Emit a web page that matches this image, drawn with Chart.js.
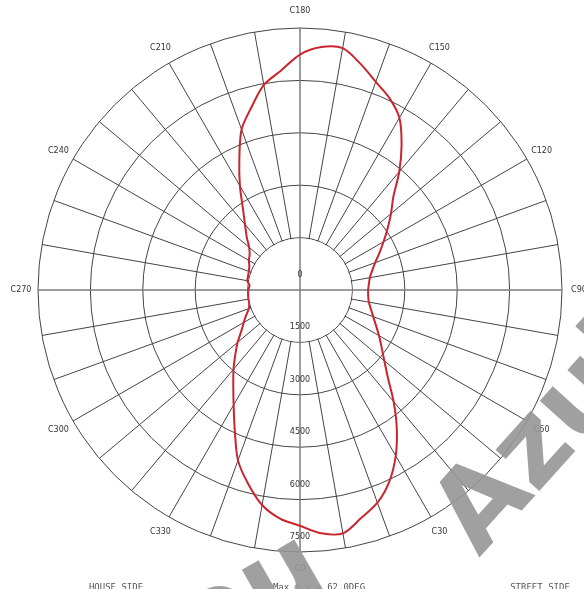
<!DOCTYPE html>
<html lang="en">
<head>
<meta charset="UTF-8" />
<title>Polar intensity plot</title>
<style>
    html, body { margin: 0; padding: 0; background: #fff; }
    #wrap { width: 584px; height: 589px; overflow: hidden; }
</style>
</head>
<body>
<div id="wrap"><canvas id="polar" width="584" height="589"></canvas></div>

<script src="https://cdn.jsdelivr.net/npm/chart.js"></script>
<script>
    // C-planes, every 5 degrees, C0 at the bottom going round to C90 on the right
    const cPlanes = [
        0, 5, 10, 15, 20, 25, 30, 35, 40, 45, 50, 55,
        60, 65, 70, 75, 80, 85, 90, 95, 100, 105, 110, 115,
        120, 125, 130, 135, 140, 145, 150, 155, 160, 165, 170, 175,
        180, 185, 190, 195, 200, 205, 210, 215, 220, 225, 230, 235,
        240, 245, 250, 255, 260, 265, 270, 275, 280, 285, 290, 295,
        300, 305, 310, 315, 320, 325, 330, 335, 340, 345, 350, 355
    ];
    // values, one per C-plane above
    const intensity = [
        6750, 6990, 7075, 6760, 6480, 6050, 5480, 4830, 4170, 3560, 3150, 2850,
        2610, 2400, 2230, 2100, 2000, 1960, 1950, 1980, 2030, 2140, 2290, 2510,
        2760, 3060, 3400, 3780, 4420, 5070, 5690, 6060, 6340, 6700, 7030, 6980,
        6740, 6300, 5960, 5400, 4890, 4110, 3440, 2850, 2450, 2160, 1900, 1760,
        1690, 1600, 1560, 1540, 1530, 1450, 1480, 1490, 1500, 1505, 1560, 1700,
        1860, 2050, 2330, 2620, 2960, 3330, 3800, 4420, 5190, 5740, 6250, 6570
    ];
    const ringTicks = [0, 1500, 3000, 4500, 6000, 7500];
    const labelledPlanes = [0, 30, 60, 90, 120, 150, 180, 210, 240, 270, 300, 330];
    const footerLeft = "HOUSE SIDE";
    const footerMid = "Max @ \u03b3 = 62.0DEG";
    const footerRight = "STREET SIDE";

    // chart.js walks clockwise, the plot goes anticlockwise -> reverse order
    const n = cPlanes.length;
    const order = cPlanes.map((c, i) => (n - i) % n);
    const labels = order.map(k => "C" + cPlanes[k]);
    const values = order.map(k => intensity[k]);

    function stamp(ctx, text, x, y, deg) {
        ctx.save();
        ctx.translate(x, y);
        ctx.rotate(deg * Math.PI / 180);
        ctx.fillText(text, 0, 0);
        ctx.restore();
    }

    const polarDecor = {
        id: "polarDecor",
        beforeDatasetsDraw(chart) {
            const r = chart.scales.r;
            const ctx = chart.ctx;
            const cx = r.xCenter, cy = r.yCenter;
            const inner = r.getDistanceFromCenterForValue(1500);
            const outer = r.getDistanceFromCenterForValue(7500);
            ctx.save();
            // no spokes inside the first ring
            ctx.fillStyle = "#fff";
            ctx.beginPath();
            ctx.arc(cx, cy, inner - 0.8, 0, Math.PI * 2);
            ctx.fill();
            // main cross
            ctx.strokeStyle = "#7c7c7c";
            ctx.lineWidth = 1.5;
            ctx.beginPath();
            ctx.moveTo(cx - outer, cy);
            ctx.lineTo(cx + outer, cy);
            ctx.moveTo(cx, cy - outer);
            ctx.lineTo(cx, cy + outer);
            ctx.stroke();
            // ring values down the C0 axis
            ctx.font = '8px "DejaVu Sans"';
            ctx.fillStyle = "#333";
            ctx.textAlign = "center";
            ctx.textBaseline = "middle";
            ringTicks.forEach(v => {
                ctx.fillText(String(v), cx, cy + r.getDistanceFromCenterForValue(v) - 15);
            });
            // C-plane names round the outside
            labelledPlanes.forEach(c => {
                const i = labels.indexOf("C" + c);
                const p = r.getPointPosition(i, outer + 17);
                ctx.fillText("C" + c, p.x, p.y);
            });
            ctx.restore();
        },
        afterDraw(chart) {
            const ctx = chart.ctx;
            ctx.save();
            ctx.font = '9px "DejaVu Sans Mono"';
            ctx.fillStyle = "#555";
            ctx.textAlign = "center";
            ctx.textBaseline = "top";
            ctx.fillText(footerLeft, 116, 583);
            ctx.fillText(footerMid, 319, 583);
            ctx.fillText(footerRight, 540, 583);
            // watermark of the source picture
            ctx.font = 'bold 110px "DejaVu Sans"';
            ctx.fillStyle = "rgba(150,150,150,0.9)";
            ctx.textAlign = "left";
            ctx.textBaseline = "alphabetic";
            stamp(ctx, "Azul", 479, 558, -48);
            stamp(ctx, "ou", 199, 664, -30);
            ctx.restore();
        }
    };

    const ctx = document.getElementById("polar").getContext("2d");
    const chart = new Chart(ctx, {
        type: "radar",
        data: {
            labels: labels,
            datasets: [{
                data: values,
                borderColor: "#c8262c",
                borderWidth: 2,
                fill: false,
                pointRadius: 0,
                tension: 0.3
            }]
        },
        options: {
            responsive: false,
            animation: false,
            layout: { padding: { left: 38, right: 22, top: 28, bottom: 37 } },
            plugins: {
                legend: { display: false },
                tooltip: { enabled: false }
            },
            scales: {
                r: {
                    min: 0,
                    max: 7500,
                    startAngle: 180,
                    ticks: { display: false, stepSize: 1500 },
                    pointLabels: { display: false },
                    grid: { circular: true, color: "#444", lineWidth: 1 },
                    angleLines: {
                        lineWidth: 1,
                        color: (c) => {
                            const deg = cPlanes[order[c.index]];
                            if (deg % 90 === 0 || deg % 10 !== 0) return "rgba(0,0,0,0)";
                            return "#444";
                        }
                    }
                }
            }
        },
        plugins: [polarDecor]
    });
</script>
</body>
</html>
